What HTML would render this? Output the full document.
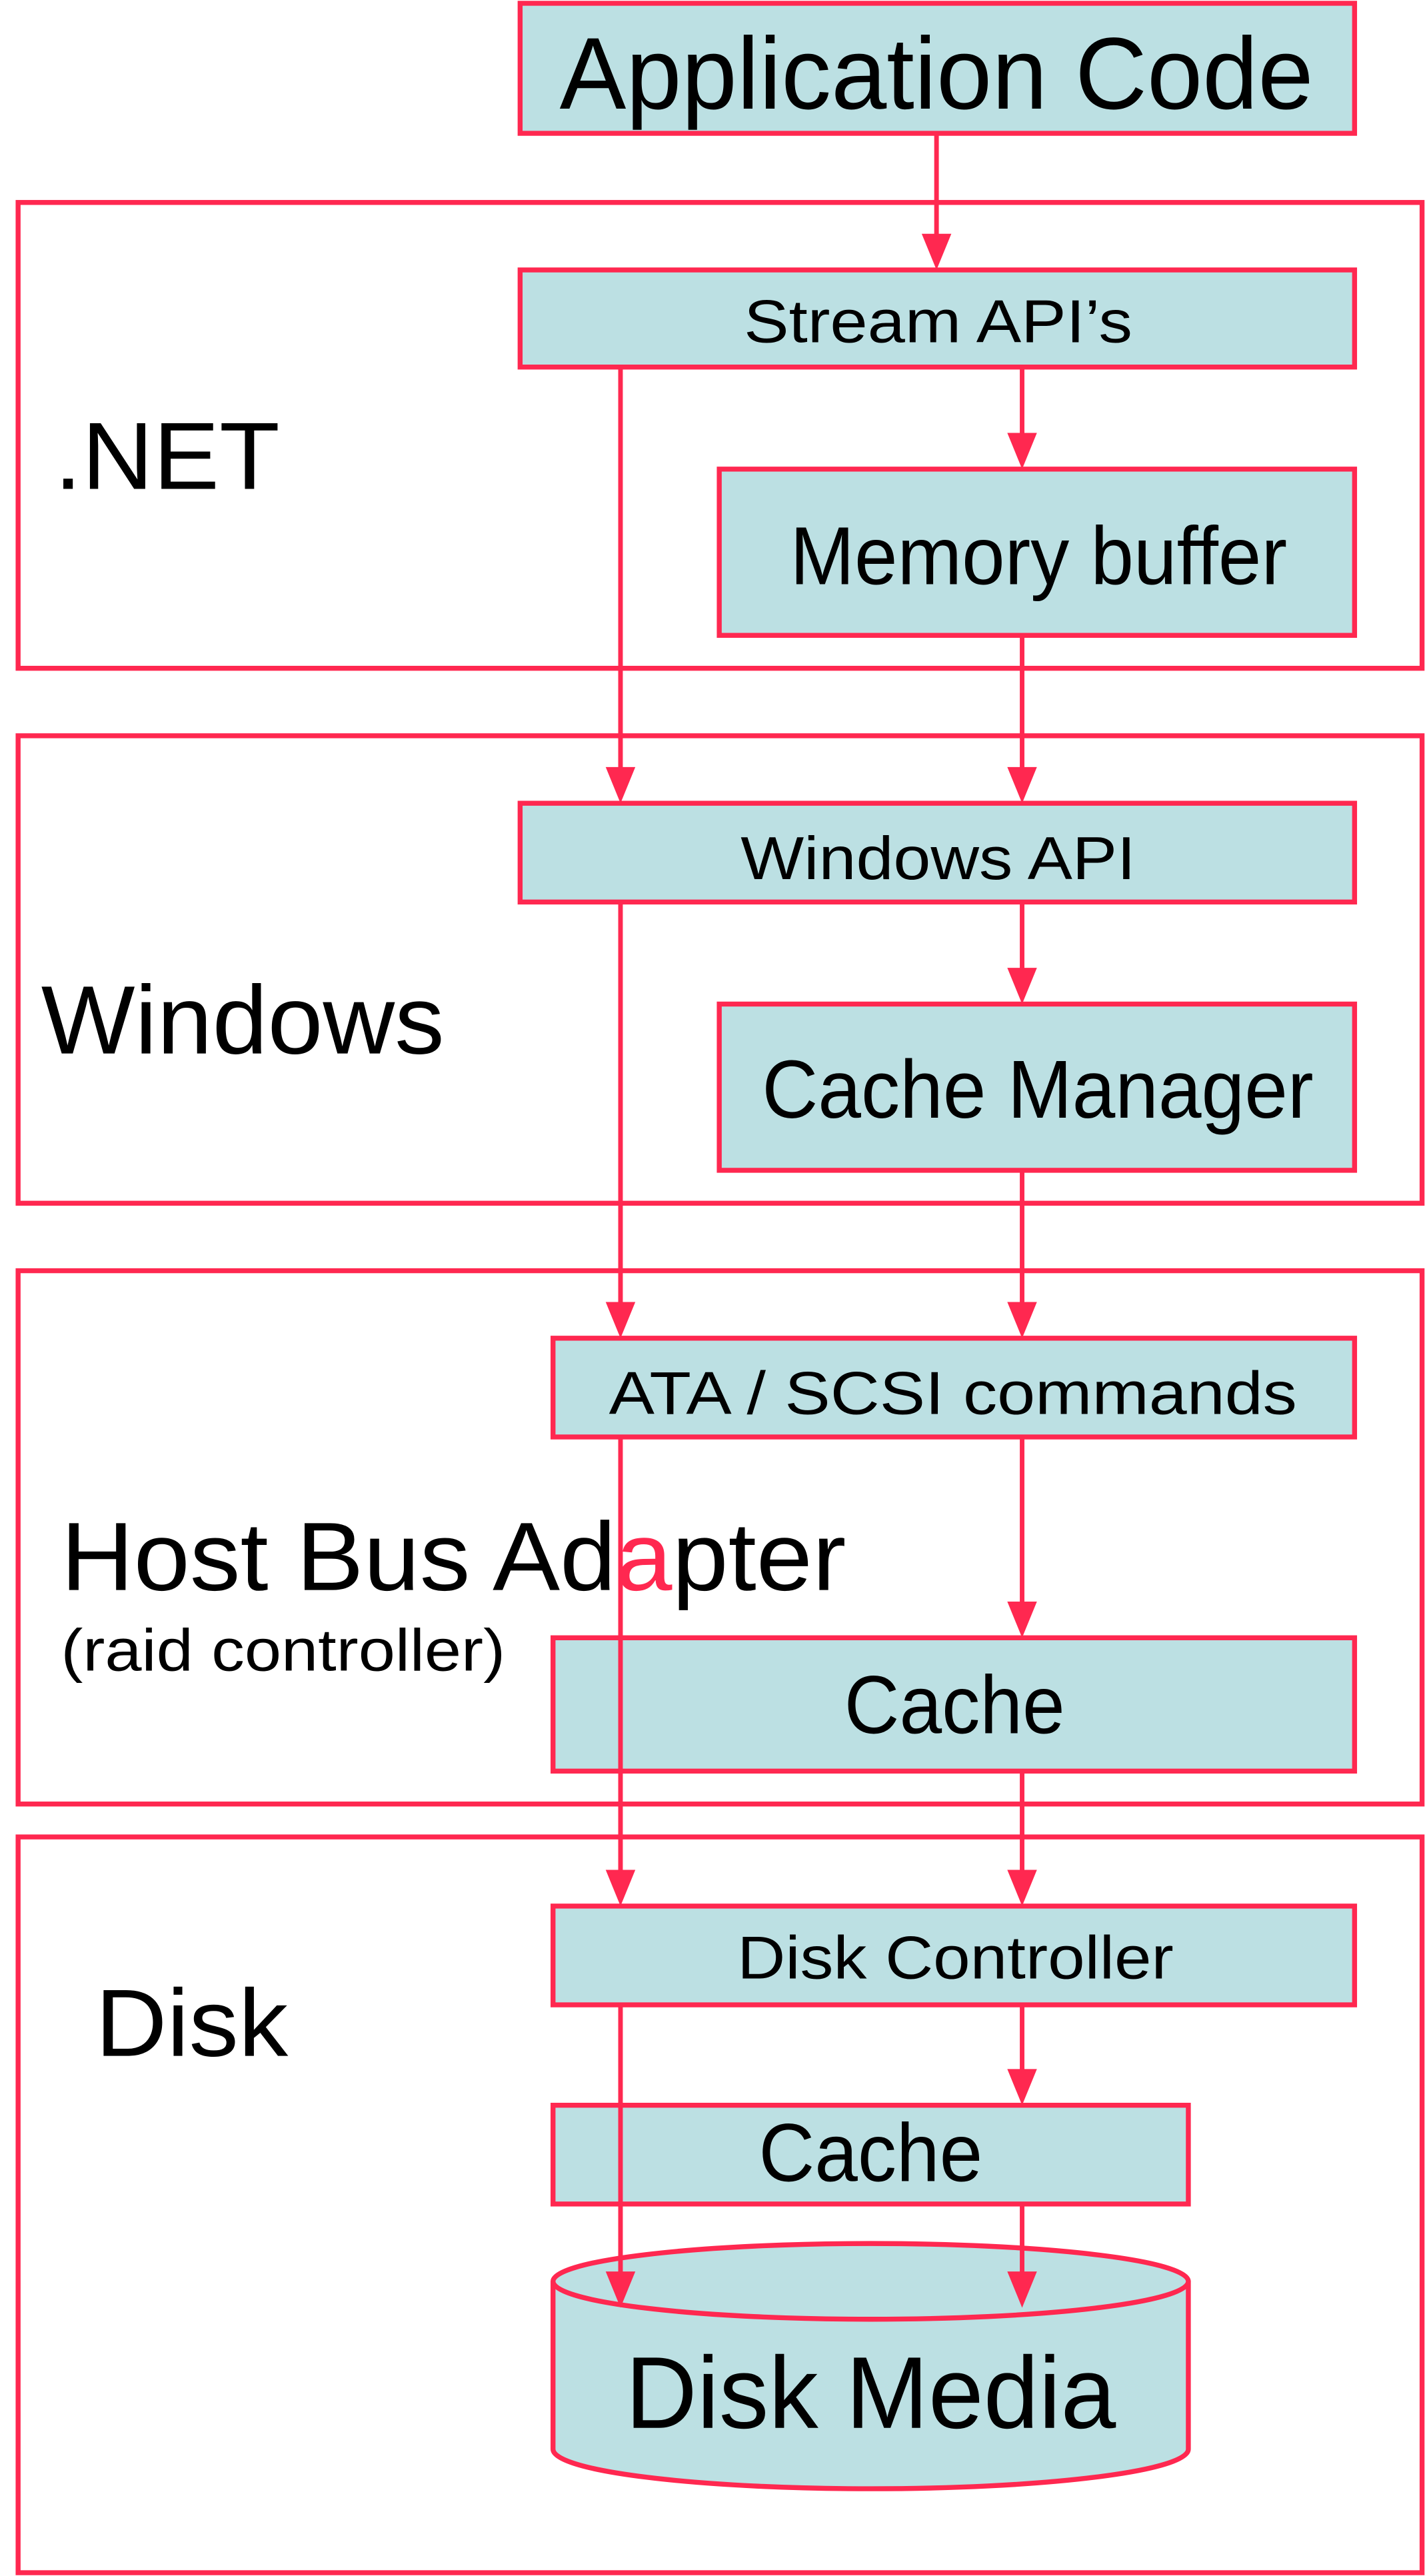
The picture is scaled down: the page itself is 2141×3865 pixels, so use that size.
<!DOCTYPE html>
<html><head><meta charset="utf-8"><style>
html,body{margin:0;padding:0;background:#fff;}
svg{display:block;}
text{font-family:"Liberation Sans",Arial,sans-serif;fill:#000;}
</style></head><body>
<svg width="2141" height="3865" viewBox="0 0 867 1565" preserveAspectRatio="none" xmlns="http://www.w3.org/2000/svg">
<g fill="none" stroke="#ff2850" stroke-width="3">
<rect x="11" y="123" width="853" height="283"/>
<rect x="11" y="447" width="853" height="284"/>
<rect x="11" y="772" width="853" height="324"/>
<rect x="11" y="1116" width="853" height="447"/>
</g>
<g fill="#bce0e3" stroke="#ff2850" stroke-width="3">
<rect x="316" y="2" width="507" height="79"/>
<rect x="316" y="164" width="507" height="59"/>
<rect x="437" y="285" width="386" height="101"/>
<rect x="316" y="488" width="507" height="60"/>
<rect x="437" y="610" width="386" height="101"/>
<rect x="336" y="813" width="487" height="60"/>
<rect x="336" y="995" width="487" height="81"/>
<rect x="336" y="1158" width="487" height="60"/>
<rect x="336" y="1279" width="386" height="60"/>
<path d="M336,1386 L336,1488 A193,24 0 0 0 722,1488 L722,1386"/>
<ellipse cx="529" cy="1386" rx="193" ry="23"/>
</g>
<g stroke="#ff2850" stroke-width="2.8" fill="none">
<line x1="569" y1="81" x2="569" y2="144"/>
<line x1="377" y1="223" x2="377" y2="468"/>
<line x1="377" y1="548" x2="377" y2="793"/>
<line x1="377" y1="873" x2="377" y2="1138"/>
<line x1="377" y1="1218" x2="377" y2="1382"/>
<line x1="621" y1="223" x2="621" y2="265"/>
<line x1="621" y1="386" x2="621" y2="468"/>
<line x1="621" y1="548" x2="621" y2="590"/>
<line x1="621" y1="711" x2="621" y2="793"/>
<line x1="621" y1="873" x2="621" y2="975"/>
<line x1="621" y1="1076" x2="621" y2="1138"/>
<line x1="621" y1="1218" x2="621" y2="1259"/>
<line x1="621" y1="1339" x2="621" y2="1382"/>
</g>
<g fill="#ff2850">
<path d="M560,142 L578,142 L569,164 Z"/>
<path d="M368,466 L386,466 L377,488 Z"/>
<path d="M368,791 L386,791 L377,813 Z"/>
<path d="M368,1136 L386,1136 L377,1158 Z"/>
<path d="M368,1380 L386,1380 L377,1402 Z"/>
<path d="M612,263 L630,263 L621,285 Z"/>
<path d="M612,466 L630,466 L621,488 Z"/>
<path d="M612,588 L630,588 L621,610 Z"/>
<path d="M612,791 L630,791 L621,813 Z"/>
<path d="M612,973 L630,973 L621,995 Z"/>
<path d="M612,1136 L630,1136 L621,1158 Z"/>
<path d="M612,1257 L630,1257 L621,1279 Z"/>
<path d="M612,1380 L630,1380 L621,1402 Z"/>
</g>
<text x="340" y="66" font-size="62" textLength="458" lengthAdjust="spacingAndGlyphs">Application Code</text>
<text x="452" y="208" font-size="37" textLength="236" lengthAdjust="spacingAndGlyphs">Stream API’s</text>
<text x="33" y="297" font-size="58" textLength="137" lengthAdjust="spacingAndGlyphs">.NET</text>
<text x="480" y="355" font-size="50" textLength="302" lengthAdjust="spacingAndGlyphs">Memory buffer</text>
<text x="450" y="534" font-size="37" textLength="240" lengthAdjust="spacingAndGlyphs">Windows API</text>
<text x="25" y="640" font-size="59" textLength="245" lengthAdjust="spacingAndGlyphs">Windows</text>
<text x="463" y="679" font-size="50" textLength="335" lengthAdjust="spacingAndGlyphs">Cache Manager</text>
<text x="370" y="859" font-size="37" textLength="418" lengthAdjust="spacingAndGlyphs">ATA / SCSI commands</text>
<text x="37" y="966" font-size="59" textLength="477" lengthAdjust="spacingAndGlyphs">Host Bus Ad<tspan fill="#ff2850">a</tspan>pter</text>
<text x="37" y="1015" font-size="36" textLength="270" lengthAdjust="spacingAndGlyphs">(raid controller)</text>
<text x="513" y="1053" font-size="50" textLength="134" lengthAdjust="spacingAndGlyphs">Cache</text>
<text x="448" y="1202" font-size="37" textLength="265" lengthAdjust="spacingAndGlyphs">Disk Controller</text>
<text x="58" y="1249" font-size="58" textLength="117" lengthAdjust="spacingAndGlyphs">Disk</text>
<text x="461" y="1325" font-size="50" textLength="136" lengthAdjust="spacingAndGlyphs">Cache</text>
<text x="380" y="1475" font-size="62" textLength="298" lengthAdjust="spacingAndGlyphs">Disk Media</text>
</svg>
</body></html>
